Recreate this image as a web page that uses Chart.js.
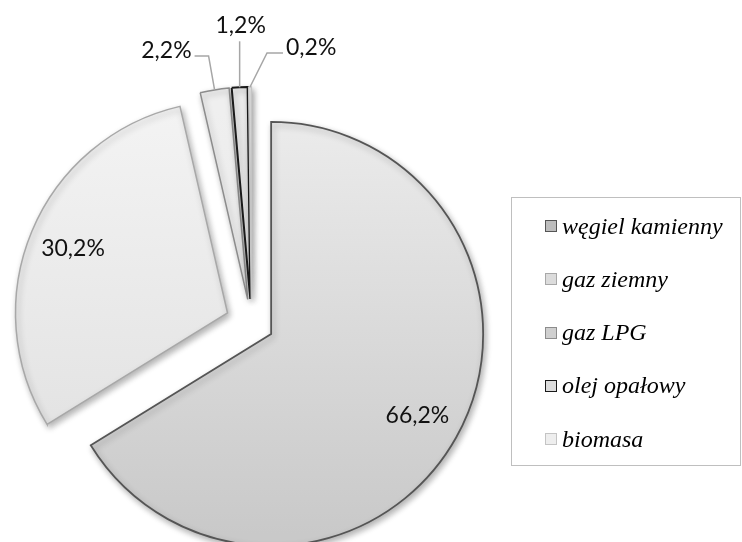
<!DOCTYPE html>
<html>
<head>
<meta charset="utf-8">
<script src="https://cdn.jsdelivr.net/npm/chart.js@4.4.1/dist/chart.umd.min.js"></script>
<style>
  html, body { margin: 0; padding: 0; background: #fff; }
  #wrap { position: relative; width: 742px; height: 542px; overflow: hidden; }
  #chart { position: absolute; left: 0; top: 0; }
  #legend {
    position: absolute; left: 511px; top: 197px; width: 230px; height: 269px;
    box-sizing: border-box; border: 1px solid #bfbfbf;
    font-family: "Liberation Serif", serif; font-style: italic; font-size: 24px; color: #000;
  }
  .item { position: absolute; left: 33px; height: 30px; display: flex; align-items: center; white-space: nowrap; }
  .box { width: 12px; height: 12px; margin-right: 5px; box-sizing: border-box; border: 1.5px solid; }
</style>
</head>
<body>
<div id="wrap">
  <canvas id="chart" width="742" height="542"></canvas>
  <div id="legend"></div>
</div>
<script>
const labels = ["węgiel kamienny", "gaz ziemny", "gaz LPG", "olej opałowy", "biomasa"];
const shares = [66.2, 30.2, 2.2, 1.2, 0.2];

// slice styling
const fillTop = ["#ececec", "#f3f3f3", "#efefef", "#ececec", "#f2f2f2"];
const fillBottom = ["#c9c9c9", "#dedede", "#e2e2e2", "#e0e0e0", "#e8e8e8"];
const borderColors = ["#555555", "#a8a8a8", "#8c8c8c", "#1a1a1a", "#c4c4c4"];
const legendFill = ["#bdbdbd", "#dcdcdc", "#cfcfcf", "#dcdcdc", "#eeeeee"];
const explode = [22.5, 26, 24, 24, 24];

const RADIUS = 212;
const fmt = (v) => v.toFixed(1).replace(".", ",") + "%";

// leader lines for the small slices: elbow relative to the slice edge, then horizontal run
const leaders = {
  2: { ex: -6, ey: -34, run: -14, align: "right" },
  3: { ex: 0, ey: -46, run: 0, align: "center" },
  4: { ex: 17, ey: -34, run: 16, align: "left" }
};

// legend built from the same arrays
const legendEl = document.getElementById("legend");
labels.forEach((name, i) => {
  const item = document.createElement("div");
  item.className = "item";
  item.style.top = (13 + i * 53.3) + "px";
  const box = document.createElement("span");
  box.className = "box";
  box.style.background = legendFill[i];
  box.style.borderColor = borderColors[i];
  item.appendChild(box);
  item.appendChild(document.createTextNode(name));
  legendEl.appendChild(item);
});

// pull every slice out along its bisector (exploded pie)
const explodePlugin = {
  id: "explode",
  afterDatasetUpdate(chart, args) {
    args.meta.data.forEach((arc, i) => {
      const mid = (arc.startAngle + arc.endAngle) / 2;
      arc.x += Math.cos(mid) * explode[i];
      arc.y += Math.sin(mid) * explode[i];
    });
  }
};

const shadowPlugin = {
  id: "shadow",
  beforeDatasetDraw(chart) {
    const ctx = chart.ctx;
    ctx.save();
    ctx.shadowColor = "rgba(0,0,0,0.3)";
    ctx.shadowBlur = 6;
    ctx.shadowOffsetX = 2;
    ctx.shadowOffsetY = 3;
  },
  afterDatasetDraw(chart) {
    chart.ctx.restore();
  }
};

const labelPlugin = {
  id: "sliceLabels",
  afterDatasetsDraw(chart) {
    const ctx = chart.ctx;
    const meta = chart.getDatasetMeta(0);
    ctx.save();
    ctx.font = "23px Lato, 'Open Sans', sans-serif";
    ctx.fillStyle = "#111";
    meta.data.forEach((arc, i) => {
      const mid = (arc.startAngle + arc.endAngle) / 2;
      const dx = Math.cos(mid), dy = Math.sin(mid);
      const text = fmt(shares[i]);
      if (!leaders[i]) {
        const r = arc.outerRadius * 0.79;
        ctx.textAlign = "center";
        ctx.textBaseline = "middle";
        ctx.fillText(text, arc.x + dx * r, arc.y + dy * r);
        return;
      }
      const L = leaders[i];
      const ex = arc.x + dx * arc.outerRadius;
      const ey = arc.y + dy * arc.outerRadius;
      const bx = ex + L.ex, by = ey + L.ey;
      const hx = bx + L.run;
      ctx.strokeStyle = "#a6a6a6";
      ctx.lineWidth = 1.5;
      ctx.beginPath();
      ctx.moveTo(ex, ey);
      ctx.lineTo(bx, by);
      ctx.lineTo(hx, by);
      ctx.stroke();
      ctx.textBaseline = "alphabetic";
      ctx.textAlign = L.align;
      if (L.align === "center") {
        ctx.fillText(text, hx + 1, by - 8);
      } else if (L.align === "right") {
        ctx.fillText(text, hx - 3, by + 2);
      } else {
        ctx.fillText(text, hx + 3, by + 2);
      }
    });
    ctx.restore();
  }
};

const ctx = document.getElementById("chart").getContext("2d");
new Chart(ctx, {
  type: "pie",
  data: {
    labels: labels,
    datasets: [{
      data: shares,
      radius: RADIUS,
      backgroundColor: (c) => {
        const area = c.chart.chartArea;
        const i = c.dataIndex;
        if (!area) return fillTop[i];
        const cy = (area.top + area.bottom) / 2;
        const g = c.chart.ctx.createLinearGradient(0, cy - RADIUS, 0, cy + RADIUS);
        g.addColorStop(0, fillTop[i]);
        g.addColorStop(1, fillBottom[i]);
        return g;
      },
      borderColor: borderColors,
      borderWidth: [1.8, 1.5, 1.5, 2, 1.5],
      borderJoinStyle: "miter",
      offset: 0
    }]
  },
  options: {
    responsive: false,
    animation: false,
    events: [],
    layout: { padding: { left: 0, right: 239, top: 104, bottom: 0 } },
    plugins: {
      legend: { display: false },
      tooltip: { enabled: false }
    }
  },
  plugins: [explodePlugin, shadowPlugin, labelPlugin]
});
</script>
</body>
</html>
